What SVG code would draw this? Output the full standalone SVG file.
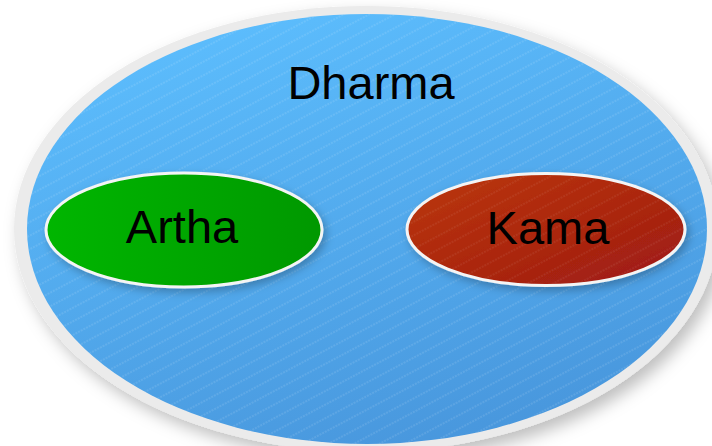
<svg xmlns="http://www.w3.org/2000/svg" width="712" height="446" viewBox="0 0 712 446">
<style>
.lbl{font-family:"Liberation Sans",Arial,sans-serif;font-size:47px;fill:#000;text-anchor:middle}
.inner{stroke:#f4f4f4;stroke-width:3}
</style>
<defs>
<linearGradient id="gBlue" x1="0.3" y1="0" x2="0.7" y2="1">
<stop offset="0" stop-color="#5cbdfd"/>
<stop offset="1" stop-color="#4896dc"/>
</linearGradient>
<linearGradient id="gGreen" x1="0" y1="0" x2="1" y2="0">
<stop offset="0" stop-color="#00b600"/>
<stop offset="1" stop-color="#009800"/>
</linearGradient>
<linearGradient id="gRed" x1="0" y1="0" x2="1" y2="1">
<stop offset="0" stop-color="#bb3606"/>
<stop offset="1" stop-color="#9e1a16"/>
</linearGradient>
<pattern id="stripes" width="12" height="12" patternUnits="userSpaceOnUse" patternTransform="rotate(-28)">
<line x1="0" y1="6" x2="12" y2="6" stroke="#ffffff" stroke-width="0.8" stroke-opacity="0.25" stroke-dasharray="2 1"/>
</pattern>
<filter id="shBig" x="-10%" y="-10%" width="125%" height="130%">
<feDropShadow dx="6" dy="8" stdDeviation="8" flood-color="#000" flood-opacity="0.25"/>
</filter>
<filter id="shSmall" x="-10%" y="-20%" width="125%" height="150%">
<feDropShadow dx="3" dy="4" stdDeviation="4" flood-color="#000" flood-opacity="0.25"/>
</filter>
</defs>
<g id="dharma">
<ellipse cx="366" cy="229" rx="352" ry="223" fill="#ebebeb" filter="url(#shBig)"/>
<ellipse cx="367" cy="229" rx="340" ry="215" fill="url(#gBlue)"/>
<ellipse cx="367" cy="229" rx="340" ry="215" fill="url(#stripes)"/>
<text class="lbl" x="371" y="99">Dharma</text>
</g>
<g id="artha">
<ellipse class="inner" cx="184" cy="230" rx="138" ry="57" fill="url(#gGreen)" filter="url(#shSmall)"/>
<text class="lbl" x="182" y="243">Artha</text>
</g>
<g id="kama">
<ellipse class="inner" cx="546" cy="229.5" rx="139" ry="56" fill="url(#gRed)" filter="url(#shSmall)"/>
<ellipse cx="546" cy="229.5" rx="137" ry="54" fill="url(#stripes)" opacity="0.6"/>
<text class="lbl" x="548" y="244">Kama</text>
</g>
<g id="connectors"/>
</svg>
